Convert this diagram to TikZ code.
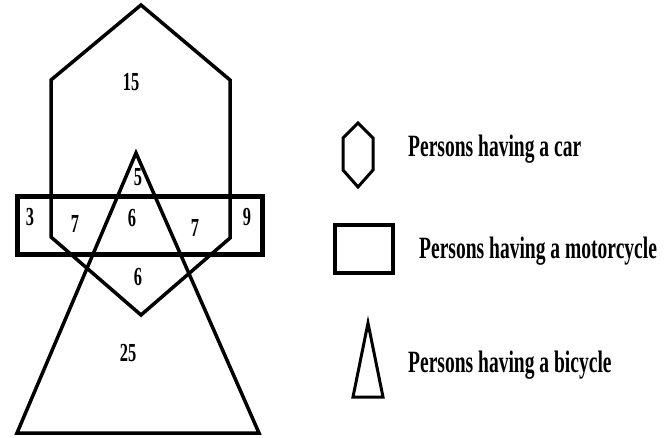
\documentclass[tikz,border=0pt]{standalone}
\usepackage{fontspec}
\newfontfamily\lab{Liberation Serif}[FakeStretch=0.63]
\begin{document}
\begin{tikzpicture}[x=1pt,y=-1pt,
  shape line/.style={line width=3.5pt,line join=miter},
  num/.style={inner sep=0pt,font=\lab\bfseries\fontsize{26}{26}\selectfont},
  legtext/.style={inner sep=0pt,anchor=base west,font=\lab\bfseries\fontsize{31}{31}\selectfont}]
\useasboundingbox (0,0) rectangle (672,437);
% car pentagon
\draw[shape line] (141,5) -- (230,80) -- (230,238) -- (141,315) -- (51,237) -- (51,80) -- cycle;
% motorcycle rectangle
\draw[line width=5pt] (17,196) rectangle (262,254);
% bicycle triangle
\draw[shape line] (136,153) -- (259,433) -- (17,433) -- cycle;
% numbers
\node[num] (n15) at (131,82) {15};
\node[num] (n5) at (138,177) {5};
\node[num] (n3) at (30,217) {3};
\node[num] (n7a) at (75,224) {7};
\node[num] (n6a) at (132,218) {6};
\node[num] (n7b) at (195,228) {7};
\node[num] (n9) at (247,217) {9};
\node[num] (n6b) at (138,277) {6};
\node[num] (n25) at (128,353) {25};
% legend
\draw[line width=3pt] (358,123) -- (373,138) -- (373,170) -- (358,187) -- (343,170) -- (343,138) -- cycle;
\draw[line width=4pt] (335,225) rectangle (393,273);
\draw[line width=3pt] (368,323) -- (383,397) -- (353,397) -- cycle;
\node[legtext] (lcar) at (408,156) {Persons having a car};
\node[legtext] (lmoto) at (419,258) {Persons having a motorcycle};
\node[legtext] (lbike) at (408,372) {Persons having a bicycle};
\end{tikzpicture}
\end{document}
